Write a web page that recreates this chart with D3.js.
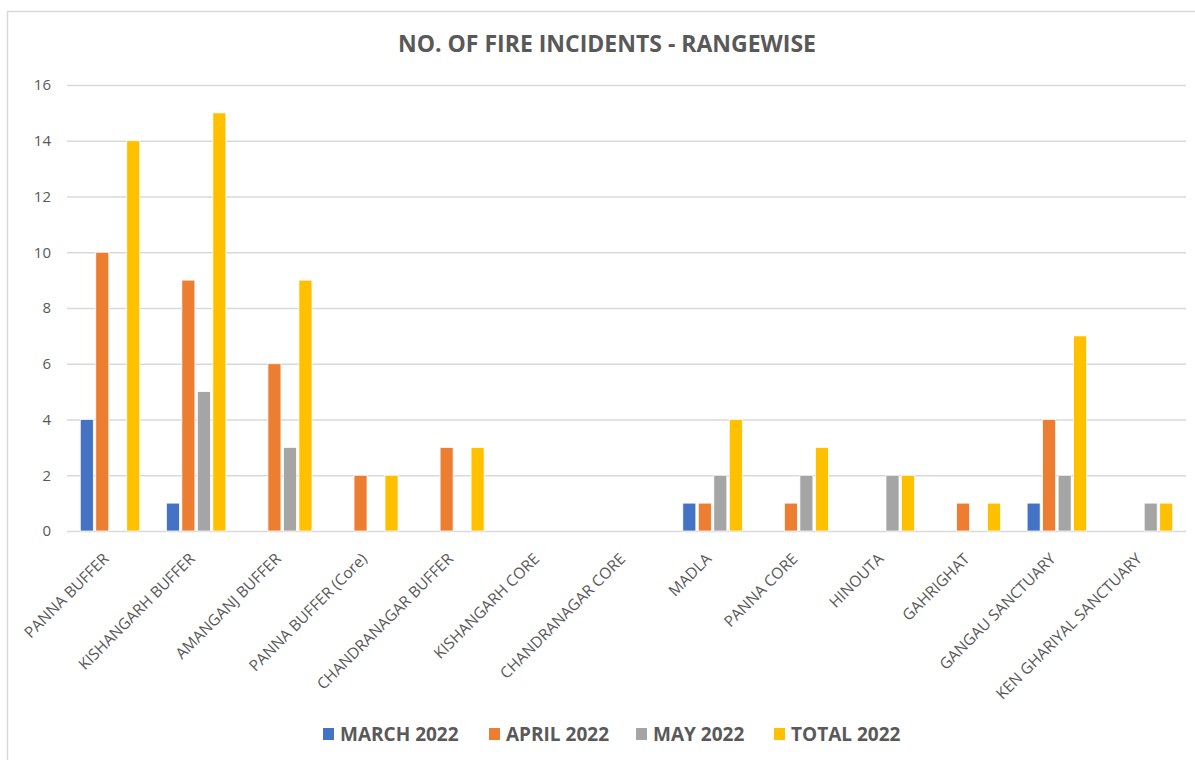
<!DOCTYPE html>
<html lang="en">
	<head>
		<meta charset="utf-8">
		<title>No. of fire incidents - rangewise</title>
		<script type="text/javascript" src="https://cdn.jsdelivr.net/npm/d3@7"></script>
		<style type="text/css">
			body { margin: 0; background: #fff; }
			text { font-family: "Open Sans", sans-serif; fill: #595959; }
		</style>
	</head>
	<body>
		<script type="text/javascript">

			//Width and height
			var w = 1195;
			var h = 760;

			var categories = ["PANNA BUFFER", "KISHANGARH BUFFER", "AMANGANJ BUFFER", "PANNA BUFFER (Core)",
							  "CHANDRANAGAR BUFFER", "KISHANGARH CORE", "CHANDRANAGAR CORE", "MADLA",
							  "PANNA CORE", "HINOUTA", "GAHRIGHAT", "GANGAU SANCTUARY", "KEN GHARIYAL SANCTUARY"];

			var seriesNames = ["MARCH 2022", "APRIL 2022", "MAY 2022", "TOTAL 2022"];
			var colors = ["#4472C4", "#ED7D31", "#A5A5A5", "#FFC000"];

			var march = [4, 1, 0, 0, 0, 0, 0, 1, 0, 0, 0, 1, 0];
			var april = [10, 9, 6, 2, 3, 0, 0, 1, 1, 0, 1, 4, 0];
			var may   = [0, 5, 3, 0, 0, 0, 0, 2, 2, 2, 0, 2, 1];
			var total = [14, 15, 9, 2, 3, 0, 0, 4, 3, 2, 1, 7, 1];

			var yTicks = [0, 2, 4, 6, 8, 10, 12, 14, 16];

			var seriesValues = [march, april, may, total];

			//flat list of bars for the data join
			var bars = [];
			categories.forEach(function(c, i) {
				seriesNames.forEach(function(s, j) {
					bars.push({ cat: c, series: s, value: seriesValues[j][i], color: colors[j] });
				});
			});

			var x0 = d3.scaleBand()
						.domain(categories)
						.range([67, 1186])
						.padding(0);

			var groupW = 59.5;
			var x1 = d3.scaleBand()
						.domain(seriesNames)
						.range([0, groupW])
						.paddingInner(0.16);

			var yScale = d3.scaleLinear()
							.domain([0, 16])
							.range([531, 85]);

			//Create SVG element
			var svg = d3.select("body")
						.append("svg")
						.attr("width", w)
						.attr("height", h);

			//chart border
			svg.append("rect")
			   .attr("x", 7.5)
			   .attr("y", 11.5)
			   .attr("width", 1200)
			   .attr("height", 800)
			   .attr("fill", "none")
			   .attr("stroke", "#d9d9d9")
			   .attr("stroke-width", 1.5);

			//title
			svg.append("text")
			   .attr("x", 607)
			   .attr("y", 52)
			   .attr("text-anchor", "middle")
			   .attr("font-size", "23px")
			   .attr("font-weight", "bold")
			   .text("NO. OF FIRE INCIDENTS - RANGEWISE");

			//gridlines + y labels
			var yAxis = d3.axisLeft(yScale)
						  .tickValues(yTicks)
						  .tickSize(-(1186 - 67))
						  .tickPadding(16);

			var gy = svg.append("g")
						.attr("transform", "translate(67,0)")
						.call(yAxis);
			gy.select(".domain").remove();
			gy.selectAll(".tick line")
			  .attr("stroke", "#d9d9d9")
			  .attr("stroke-width", 1.5);
			gy.selectAll(".tick text")
			  .attr("font-size", "15px")
			  .attr("fill", "#595959")
			  .attr("font-family", "Open Sans, sans-serif");

			//bars
			svg.selectAll("rect.bar")
			   .data(bars.filter(function(d) { return d.value > 0; }))
			   .enter()
			   .append("rect")
			   .attr("class", "bar")
			   .attr("x", function(d) {
			   		return x0(d.cat) + (x0.bandwidth() - groupW) / 2 + x1(d.series);
			   })
			   .attr("y", function(d) {
			   		return yScale(d.value);
			   })
			   .attr("width", x1.bandwidth())
			   .attr("height", function(d) {
			   		return yScale(0) - yScale(d.value);
			   })
			   .attr("fill", function(d) {
					return d.color;
			   })
			   .attr("stroke", "#fff")
			   .attr("stroke-width", 0.75);

			//category labels
			svg.selectAll("text.cat")
			   .data(categories)
			   .enter()
			   .append("text")
			   .attr("class", "cat")
			   .attr("text-anchor", "end")
			   .attr("font-size", "15.5px")
			   .attr("transform", function(d) {
			   		return "translate(" + (x0(d) + x0.bandwidth() / 2 - 4) + ",556) rotate(-45)";
			   })
			   .attr("dy", "0.35em")
			   .text(function(d) { return d; });

			//legend
			var legendX = [323, 489, 636, 774];
			var legend = svg.selectAll("g.legend")
							.data(seriesNames)
							.enter()
							.append("g")
							.attr("class", "legend")
							.attr("transform", function(d, i) {
								return "translate(" + legendX[i] + ",734)";
							});

			legend.append("rect")
				  .attr("x", 0)
				  .attr("y", -6)
				  .attr("width", 11)
				  .attr("height", 12)
				  .attr("fill", function(d, i) { return colors[i]; });

			legend.append("text")
				  .attr("x", 17)
				  .attr("dy", "0.36em")
				  .attr("font-size", "19px")
				  .attr("font-weight", "bold")
				  .text(function(d) { return d; });

		</script>
	</body>
</html>
